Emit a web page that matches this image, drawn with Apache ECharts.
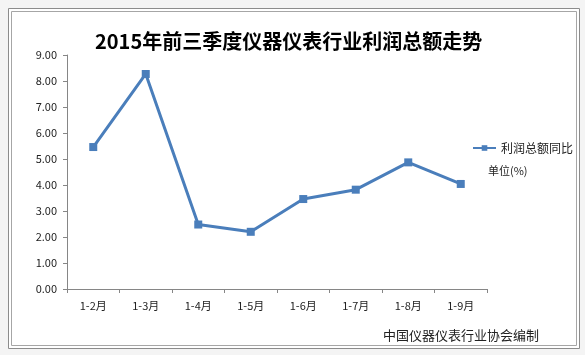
<!DOCTYPE html>
<html>
<head>
<meta charset="utf-8">
<script src="https://cdn.jsdelivr.net/npm/echarts@6/dist/echarts.min.js"></script>
<style>
  html, body { margin: 0; padding: 0; background: #f4f4f4; }
  #chart { width: 585px; height: 355px; }
</style>
</head>
<body>
<div id="chart"></div>
<script>
const categories = ['1-2月', '1-3月', '1-4月', '1-5月', '1-6月', '1-7月', '1-8月', '1-9月'];
const profitRatio = [5.46, 8.27, 2.48, 2.20, 3.46, 3.82, 4.87, 4.04];
const seriesName = '利润总额同比';

const chart = echarts.init(document.getElementById('chart'));
const font = '"Noto Sans CJK SC", "Noto Sans", sans-serif';

chart.setOption({
  animation: false,
  textStyle: { fontFamily: font },
  graphic: [
    { type: 'rect', silent: true, z: -10,
      shape: { x: 8.5, y: 8.5, width: 571, height: 340 },
      style: { fill: '#fff', stroke: '#8c8c8c', lineWidth: 1 } },
    { type: 'rect', silent: true, z: -9,
      shape: { x: 11.5, y: 11.5, width: 565, height: 334 },
      style: { fill: '#fff', stroke: '#a6a6a6', lineWidth: 1 } },
    { type: 'text', left: 383, top: 329,
      style: { text: '中国仪器仪表行业协会编制', fontSize: 13, fill: '#222', fontFamily: font } },
    // unit note under the legend
    { type: 'text', left: 488, top: 165,
      style: { text: '单位(%)', fontSize: 11, fill: '#222', fontFamily: font } }
  ],
  title: {
    text: '2015年前三季度仪器仪表行业利润总额走势',
    left: 90,
    top: 26,
    textStyle: { fontSize: 20, fontWeight: 'bold', color: '#000', fontFamily: font }
  },
  legend: {
    data: [seriesName],
    left: 467,
    top: 137,
    itemWidth: 23,
    itemHeight: 7,
    textStyle: { fontSize: 12, color: '#222', fontFamily: font }
  },
  grid: { left: 67, right: 98, top: 55, bottom: 66 },
  xAxis: {
    type: 'category',
    data: categories,
    boundaryGap: true,
    axisLine: { lineStyle: { color: '#868686' } },
    axisTick: { show: true, length: 4, lineStyle: { color: '#868686' } },
    axisLabel: { color: '#222', fontSize: 11, margin: 11 }
  },
  yAxis: {
    type: 'value',
    min: 0,
    max: 9,
    interval: 1,
    axisLine: { show: true, lineStyle: { color: '#868686' } },
    axisTick: { show: true, length: 4, lineStyle: { color: '#868686' } },
    splitLine: { show: false },
    axisLabel: { color: '#222', fontSize: 11, margin: 10,
      formatter: v => v.toFixed(2) }
  },
  series: [{
    name: seriesName,
    type: 'line',
    data: profitRatio,
    symbol: 'rect',
    symbolSize: 8,
    lineStyle: { color: '#4a7ebb', width: 3 },
    itemStyle: { color: '#4a7ebb' }
  }]
});
</script>
</body>
</html>
